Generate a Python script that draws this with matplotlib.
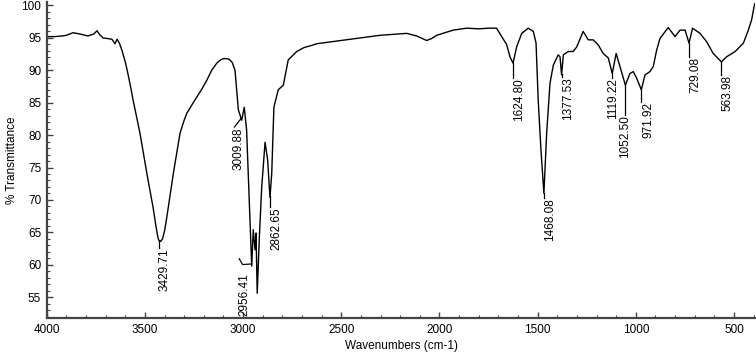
import numpy as np
import matplotlib.pyplot as plt
from matplotlib.ticker import MultipleLocator

# FTIR spectrum
wavenumber = [4000, 3960, 3920, 3900, 3866, 3830, 3790, 3760, 3744, 3730,
              3713, 3690, 3668, 3652, 3642, 3630, 3617, 3600, 3590, 3575,
              3560, 3525, 3490, 3470, 3458, 3445, 3436, 3430, 3420, 3410,
              3400, 3388, 3370, 3355, 3321, 3300, 3286, 3260, 3235, 3210,
              3184, 3160, 3134, 3115, 3100, 3085, 3070, 3055, 3041, 3024,
              3007, 2994, 2982, 2965, 2956, 2948, 2939, 2934, 2928, 2917,
              2905, 2888, 2875, 2863, 2854, 2843, 2821, 2795, 2770, 2727,
              2690, 2644, 2625, 2550, 2472, 2400, 2303, 2167, 2116, 2065,
              2040, 2014, 1930, 1861, 1800, 1750, 1709, 1683, 1658, 1640,
              1625, 1607, 1581, 1548, 1522, 1508, 1497, 1483, 1468, 1454,
              1437, 1420, 1395, 1386, 1378, 1369, 1344, 1319, 1301, 1268,
              1242, 1217, 1191, 1166, 1140, 1120, 1100, 1081, 1053, 1030,
              1013, 996, 972, 953, 928, 911, 894, 877, 835, 800,
              775, 749, 729, 711, 673, 639, 606, 564, 537, 494,
              452, 427, 410, 398, 394]
transmittance = [95.2, 95.2, 95.3, 95.4, 95.8, 95.6, 95.3, 95.6, 96.1, 95.5,
                 95.0, 94.9, 94.8, 94.1, 94.8, 94.2, 93.1, 91.3, 90.0, 87.8,
                 85.4, 80.3, 74.1, 70.8, 68.8, 66.2, 64.6, 63.8, 63.6, 64.0,
                 65.2, 67.4, 71.0, 74.1, 80.3, 82.3, 83.4, 84.7, 85.9, 87.1,
                 88.5, 90.0, 91.1, 91.6, 91.8, 91.8, 91.7, 91.2, 90.0, 83.9,
                 82.3, 84.3, 80.8, 66.9, 59.8, 65.4, 62.3, 64.9, 55.6, 64.3,
                 72.0, 78.9, 76.2, 70.4, 74.1, 84.3, 87.0, 87.7, 91.6, 92.9,
                 93.5, 93.9, 94.1, 94.4, 94.7, 95.0, 95.4, 95.7, 95.3, 94.6,
                 94.9, 95.4, 96.2, 96.5, 96.4, 96.5, 96.5, 95.2, 94.0, 92.0,
                 91.1, 93.6, 95.7, 96.5, 96.0, 94.2, 85.4, 77.7, 71.0, 80.3,
                 88.0, 90.8, 92.4, 92.1, 89.3, 92.4, 92.9, 92.9, 93.6, 96.0,
                 94.7, 94.7, 93.9, 92.6, 91.9, 89.5, 92.6, 90.6, 87.7, 89.5,
                 89.8, 88.8, 87.0, 89.3, 89.8, 90.6, 93.1, 94.9, 96.6, 95.2,
                 96.2, 96.2, 94.2, 96.5, 95.7, 94.4, 92.6, 91.3, 92.1, 92.9,
                 94.2, 96.2, 97.8, 99.8, 100.3]

peak_labels = ['3429.71', '3009.88', '2956.41', '2862.65', '1624.80', '1468.08',
               '1377.53', '1119.22', '1052.50', '971.92', '729.08', '563.98']
peak_wn = [float(s) for s in peak_labels]

# layout of the peak labels: text top (%T) and sideways shift (px)
text_top = [62.6, 81.25, 58.7, 68.9, 88.8, 70.3, 89.0, 88.8, 83.1, 85.1, 92.05, 89.3]
text_dx = [6, -3, -7, 6, 6, 6, 6, 1, 0, 7, 6, 6]

plt.rcParams['font.family'] = ['Liberation Sans', 'DejaVu Sans']

fig = plt.figure(figsize=(7.56, 3.57), dpi=100)
ax = fig.add_axes([46.7 / 756, 1 - 318 / 357, (755 - 46.7) / 756, 316 / 357])

ax.plot(wavenumber, transmittance, color='black', lw=1.0)

px_per_wn = 708.3 / (4000 - 393)
wn_sorted = wavenumber[::-1]
t_sorted = transmittance[::-1]
for lab, wn, top, dx in zip(peak_labels, peak_wn, text_top, text_dx):
    t_peak = np.interp(wn, wn_sorted, t_sorted)
    if lab == '3009.88':
        ax.plot([wn, wn + 6.7 / px_per_wn], [t_peak, top], color='black', lw=0.9)
    elif lab == '2956.41':
        ax.plot([wn, wn + 9 / px_per_wn, wn + 12.4 / px_per_wn],
                [t_peak, t_peak - 0.1, t_peak + 0.8], color='black', lw=0.9)
    else:
        ax.plot([wn, wn], [t_peak, top], color='black', lw=0.9)
    ax.text(wn - dx / px_per_wn, top, lab, rotation=90, ha='center', va='top',
            fontsize=8.5)

ax.set_xlim(4000, 393)
ax.set_ylim(51.78, 100.54)
ax.xaxis.set_major_locator(MultipleLocator(500))
ax.xaxis.set_minor_locator(MultipleLocator(100))
ax.set_yticks(np.arange(55, 101, 5))
ax.yaxis.set_minor_locator(MultipleLocator(1))

for s in ['top', 'right']:
    ax.spines[s].set_visible(False)
for s in ['left', 'bottom']:
    ax.spines[s].set_linewidth(1.6)
    ax.spines[s].set_color('#444444')

ax.tick_params(which='major', direction='in', length=4, width=1, color='#444444',
               labelsize=8.5, pad=4)
ax.tick_params(which='minor', direction='in', length=2.5, width=0.8, color='#444444')

fig.text(401 / 756, 1 - 346 / 357, 'Wavenumbers (cm-1)', fontsize=8.5,
         ha='center', va='center')
fig.text(12 / 756, 1 - 160 / 357, '% Transmittance', fontsize=8.5,
         rotation=90, ha='center', va='center')

fig.savefig('out.png', dpi=100)
